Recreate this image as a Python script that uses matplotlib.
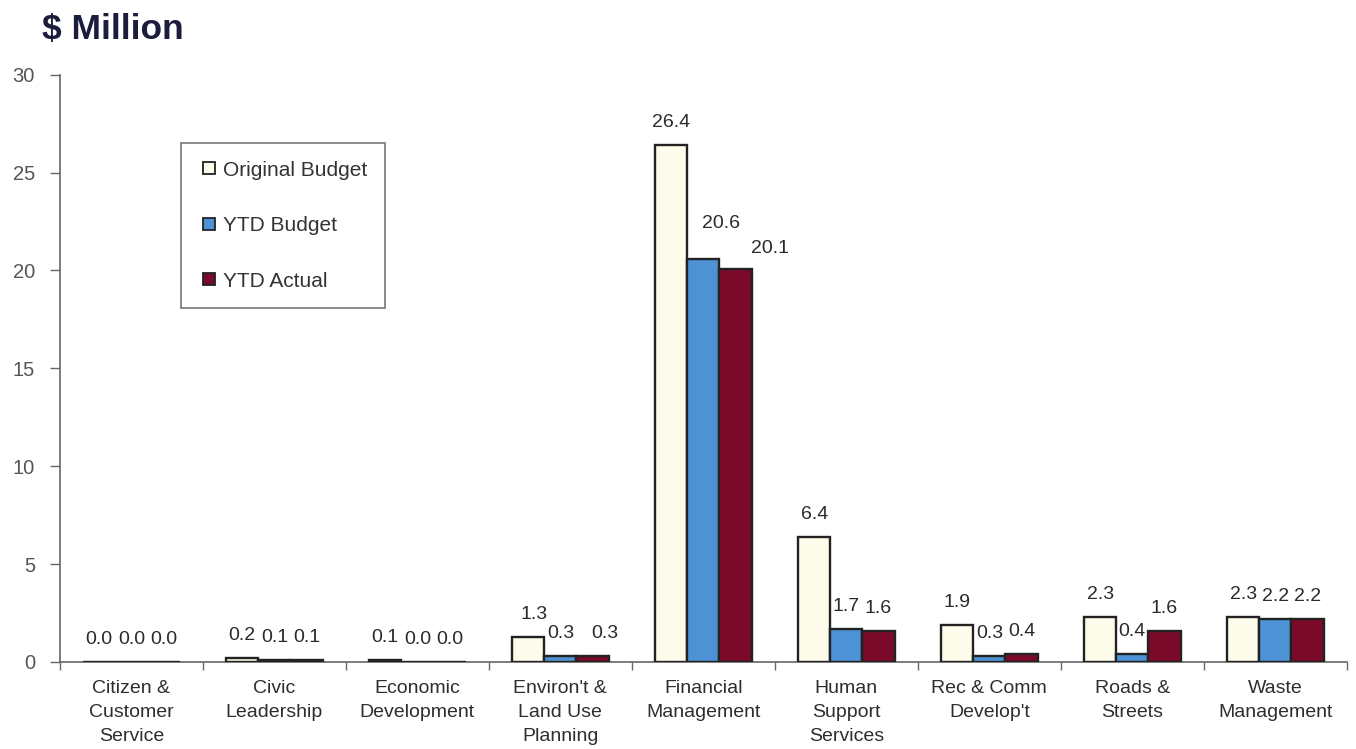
import matplotlib
matplotlib.use("Agg")
import matplotlib.pyplot as plt
from matplotlib.lines import Line2D
import numpy as np

plt.rcParams['font.family'] = ['Liberation Sans', 'DejaVu Sans']

categories = ["Citizen &\nCustomer\nService", "Civic\nLeadership", "Economic\nDevelopment",
              "Environ't &\nLand Use\nPlanning", "Financial\nManagement", "Human\nSupport\nServices",
              "Rec & Comm\nDevelop't", "Roads &\nStreets", "Waste\nManagement"]
original_budget = [0.0, 0.2, 0.1, 1.3, 26.4, 6.4, 1.9, 2.3, 2.3]
ytd_budget = [0.0, 0.1, 0.0, 0.3, 20.6, 1.7, 0.3, 0.4, 2.2]
ytd_actual = [0.0, 0.1, 0.0, 0.3, 20.1, 1.6, 0.4, 1.6, 2.2]
series_names = ["Original Budget", "YTD Budget", "YTD Actual"]
yticks = [0, 5, 10, 15, 20, 25, 30]

colors = ["#fdfbea", "#4d92d4", "#7b0a2a"]
# label nudges (points) for crowded labels: (category index, series index) -> (dx, dy)
label_nudge = {(4, 1): (13, 9), (4, 2): (25, -2), (3, 2): (9, 0), (3, 0): (4, 0)}

fig = plt.figure(figsize=(13.56, 7.49), dpi=100)
ax = fig.add_axes([0.0442, 0.1162, 0.949, 0.784])

x = np.arange(len(categories))
w = 0.225
series = [original_budget, ytd_budget, ytd_actual]
for i, (vals, name, c) in enumerate(zip(series, series_names, colors)):
    ax.bar(x + (i - 1) * w, vals, width=w, color=c, edgecolor="#222222",
           linewidth=1.7, label=name, zorder=3)
    for k, (xi, v) in enumerate(zip(x + (i - 1) * w, vals)):
        dx, dy = label_nudge.get((k, i), (0, 0))
        ax.annotate(f"{v:.1f}", (xi, v), xytext=(dx, 10 + dy), textcoords="offset points",
                    ha="center", va="bottom", fontsize=14, color="#2a2a2a")

ax.set_xlim(-0.5, len(categories) - 0.5)
ax.set_ylim(0, 30)
ax.set_yticks(yticks)
ax.set_yticklabels([str(t) for t in yticks], fontsize=14.5, color="#555555")
ax.tick_params(axis='y', direction='out', length=7, width=1, color="#666666", pad=11)

ax.set_xticks(x)
ax.set_xticklabels(categories, fontsize=14, color="#2e2e2e", linespacing=1.53)
ax.tick_params(axis='x', which='major', length=0, pad=13)
ax.set_xticks(np.arange(-0.5, len(categories) + 0.5, 1), minor=True)
ax.tick_params(axis='x', which='minor', direction='out', length=6, width=1, color="#666666")

for s in ["top", "right"]:
    ax.spines[s].set_visible(False)
for s in ["left", "bottom"]:
    ax.spines[s].set_color("#666666")
    ax.spines[s].set_linewidth(1.2)

fig.text(0.031, 0.961, "$ Million", fontsize=25.5, fontweight="bold", color="#1c1c3c",
         ha="left", va="center")

handles = [Line2D([], [], marker="s", linestyle="None", markersize=8,
                  markerfacecolor=c, markeredgecolor="#222222", markeredgewidth=1.3)
           for c in colors]
leg = fig.legend(handles, series_names, loc="upper left", bbox_to_anchor=(0.1335, 0.809),
                 borderaxespad=0, fontsize=15, frameon=True, fancybox=False,
                 edgecolor="#555555", handlelength=1.0, handletextpad=0.15,
                 labelspacing=1.75, borderpad=0.85)
leg.get_frame().set_linewidth(1.2)
for t in leg.get_texts():
    t.set_color("#333333")

fig.savefig("out.png", dpi=100)
